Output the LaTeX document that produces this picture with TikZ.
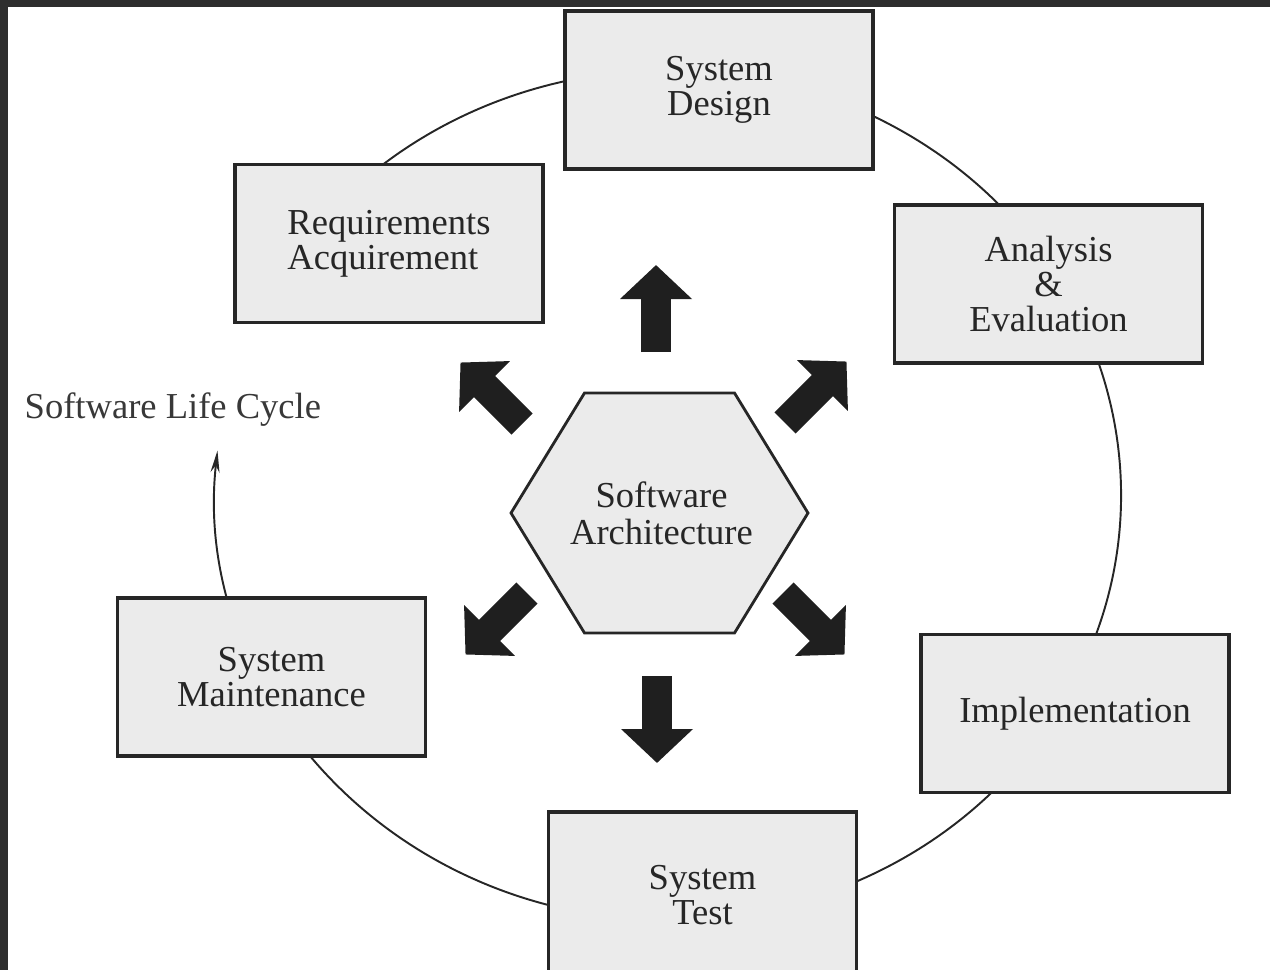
\documentclass[tikz,border=0pt]{standalone}
\usepackage{fontspec}
\setmainfont{Liberation Serif}
\usetikzlibrary{arrows.meta,backgrounds}

\begin{document}
\begin{tikzpicture}[
  bloc/.style={draw=black!85, line width=1.1pt, fill=gray!16,
    minimum width=3.08cm, minimum height=1.58cm, inner sep=0pt,
    align=center, text=black!85, font=\fontsize{10.4}{9.9}\selectfont},
  fleche/.style={line width=0.3cm, black!88,
    -{Triangle[length=0.34cm,width=0.7cm]}},
  anneau/.style={line width=0.55pt, black!85,
    -{Stealth[length=0.22cm,width=0.09cm]}}
]
\useasboundingbox (0,0) rectangle (12.7,-9.7);
\clip (0,0) rectangle (12.7,-9.7);

% Cadre
\fill[black!82] (0,0) rectangle (12.7,-0.07);
\fill[black!82] (0,0) rectangle (0.08,-9.7);

% Etapes du cycle
\node[bloc] (SD) at (7.19,-0.90) {System\\Design};
\node[bloc, align=left] (RA) at (3.89,-2.435) {Requirements\\Acquirement};
\node[bloc] (AE) at (10.485,-2.84) {Analysis\\\&\\Evaluation};
\node[bloc] (IM) at (10.75,-7.135) {Implementation};
\node[bloc, minimum height=1.66cm] (ST) at (7.025,-8.95) {System\\Test};
\node[bloc] (SM) at (2.715,-6.77) {System\\Maintenance};

% Legende
\node[anchor=west, inner sep=0pt, text=black!78,
  font=\fontsize{10.4}{10}\selectfont] (SLC) at (0.24,-4.10) {Software Life Cycle};

% Hexagone central
\node[align=center, text=black!85, font=\fontsize{10.4}{10.6}\selectfont]
  (hex) at (6.615,-5.13) {Software\\Architecture};
\begin{scope}[on background layer]
\draw[draw=black!85, line width=0.8pt, fill=gray!16]
  (hex.center) +(-1.505,0) -- +(-0.77,1.2) -- +(0.73,1.2)
  -- +(1.465,0) -- +(0.73,-1.2) -- +(-0.77,-1.2) -- cycle;

% Cycle de vie
\coordinate (ring) at (6.68,-4.95);
\draw[anneau] (ring) ++(150:4.53 and 4.25)
  arc[start angle=150, end angle=-186, x radius=4.53, y radius=4.25];
\end{scope}

% Fleches
\foreach \tx/\ty/\a in {-0.055/1.61/90, -0.045/-1.63/-90,
    -1.395/0.89/135, 1.235/0.90/45, -1.345/-0.80/-135, 1.215/-0.80/-45}
  \draw[fleche] (hex.center) ++(\tx,\ty) -- ++(\a:0.87);

\end{tikzpicture}
\end{document}
